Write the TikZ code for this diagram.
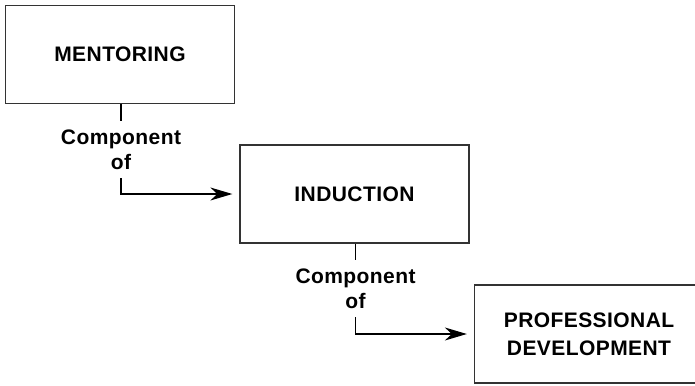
\documentclass[tikz,border=0pt]{standalone}
\usepackage{fontspec}
\setmainfont[LetterSpace=2]{Liberation Sans}
\usetikzlibrary{arrows.meta}
\begin{document}
\begin{tikzpicture}[x=1pt,y=-1pt,
  box/.style={draw=black!80,line width=1.3pt,minimum width=229pt,minimum height=98pt,inner sep=0pt,
    font=\fontsize{21}{28}\selectfont\bfseries,align=center},
  lbl/.style={inner sep=0pt,minimum height=57pt,align=center,font=\fontsize{21}{25}\selectfont\bfseries},
  conn/.style={line width=1.3pt,black},
  arr/.style={conn,-{Stealth[length=22pt,width=13pt,inset=7pt]},shorten >=7pt}]
\useasboundingbox (0,0) rectangle (695,385);
\node[box] (m) at (120,54.5) {MENTORING};
\node[box] (i) at (354.5,194) {INDUCTION};
\node[box] (p) at (589,334) {PROFESSIONAL\\DEVELOPMENT};
\node[lbl] (l1) at (121,149.5) {Component\\of};
\node[lbl] (l2) at (355.5,288.5) {Component\\of};
\draw[conn] (m.south -| l1) -- (l1.north);
\draw[arr] (l1.south) |- (i.west);
\draw[conn] (i.south -| l2) -- (l2.north);
\draw[arr] (l2.south) |- (p.west);
\end{tikzpicture}
\end{document}
